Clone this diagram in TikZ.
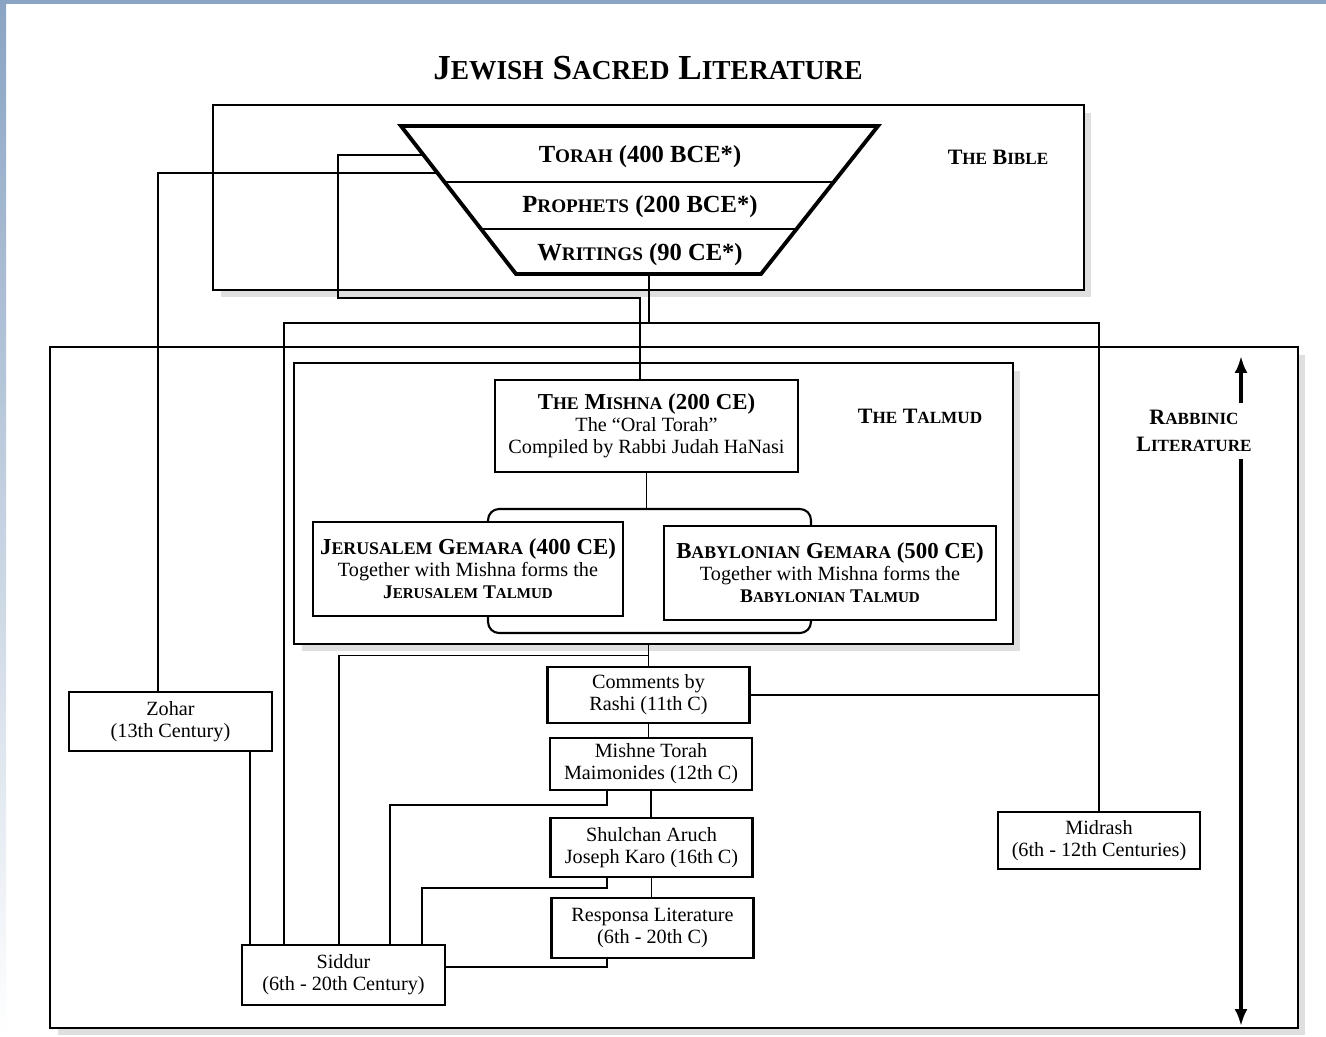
\documentclass[tikz,border=0pt]{standalone}
\usepackage{fontspec}
\setmainfont{Liberation Serif}
\usetikzlibrary{arrows.meta,calc,shadows}
\definecolor{scanblue}{HTML}{8AA4C3}
\newcommand{\fsc}[2]{#1\scalebox{0.78}{#2}}
\tikzset{
  panel/.style={draw, line width=1.2pt, fill=white, inner sep=0pt,
    drop shadow={shadow xshift=0.15cm, shadow yshift=-0.15cm, fill=gray!25, opacity=1}},
  itembox/.style={draw, line width=1.2pt, fill=white, align=center, inner sep=1pt,
    minimum width=4.04cm, minimum height=1.16cm, font=\fontsize{11.5}{12.5}\selectfont},
  gembox/.style={draw, line width=1.2pt, fill=white, align=center, inner sep=1pt,
    font=\fontsize{11.5}{12.5}\selectfont},
  tier/.style={font=\bfseries\fontsize{14}{16}\selectfont},
  sectlabel/.style={font=\bfseries\fontsize{12.5}{15}\selectfont, align=center},
  link/.style={line width=1pt},
  flow/.style={line width=1.9pt, -{Latex[length=0.34cm,width=0.26cm]}}
}
\begin{document}
\begin{tikzpicture}[x=0.02cm, y=-0.02cm]
\useasboundingbox (0,0) rectangle (1326,1037);
\fill[white] (0,0) rectangle (1326,1037);
\shade[top color=scanblue, bottom color=white] (0,0) rectangle (6,1037);
\fill[scanblue] (0,0) rectangle (1326,4);

\node[font=\bfseries\fontsize{20}{24}\selectfont] (title) at (648,68) {\fsc{J}{EWISH} \fsc{S}{ACRED} \fsc{L}{ITERATURE}};

\node[panel, minimum width=17.42cm, minimum height=3.7cm] (bible) at (648.5,197.5) {};
\node[panel, minimum width=24.96cm, minimum height=13.62cm] (rabframe) at (674,687.5) {};
\node[panel, minimum width=14.38cm, minimum height=5.62cm] (talmud) at (653.5,503.5) {};

\draw[line width=2.2pt] (401,126) coordinate (tl) -- (878,126) coordinate (tr) -- (761,274) coordinate (br) -- (516,274) coordinate (bl) -- cycle;
\draw[line width=1pt] ($(tl)!0.378!(bl)$) -- ($(tr)!0.378!(br)$);
\draw[line width=1pt] ($(tl)!0.696!(bl)$) -- ($(tr)!0.696!(br)$);
\node[tier] (torah) at (640,157) {\fsc{T}{ORAH} (400 BCE*)};
\node[tier] (prophets) at (640,207) {\fsc{P}{ROPHETS} (200 BCE*)};
\node[tier] (writings) at (640,255) {\fsc{W}{RITINGS} (90 CE*)};
\node[sectlabel] (biblelabel) at (998,157) {\fsc{T}{HE} \fsc{B}{IBLE}};

\node[sectlabel] (talmudlabel) at (920,416) {\fsc{T}{HE} \fsc{T}{ALMUD}};
\node[sectlabel, inner sep=4pt] (rabbinic) at (1194,431) {\fsc{R}{ABBINIC}\\\fsc{L}{ITERATURE}};

\node[gembox, minimum width=6.06cm, minimum height=1.84cm] (mishna) at (646.5,426)
  {{\bfseries\fontsize{13}{15}\selectfont \fsc{T}{HE} \fsc{M}{ISHNA} (200 CE)}\\The ``Oral Torah''\\Compiled by Rabbi Judah HaNasi};
\node[draw, line width=1.2pt, rounded corners=0.22cm, minimum width=6.46cm, minimum height=2.48cm] (gemara) at (649.5,571) {};
\node[gembox, minimum width=6.2cm, minimum height=1.88cm] (jerusalem) at (468,569)
  {{\bfseries\fontsize{13}{15}\selectfont \fsc{J}{ERUSALEM} \fsc{G}{EMARA} (400 CE)}\\Together with Mishna forms the\\{\bfseries\fontsize{11}{12}\selectfont \fsc{J}{ERUSALEM} \fsc{T}{ALMUD}}};
\node[gembox, minimum width=6.64cm, minimum height=1.88cm] (babylonian) at (830,573)
  {{\bfseries\fontsize{13}{15}\selectfont \fsc{B}{ABYLONIAN} \fsc{G}{EMARA} (500 CE)}\\Together with Mishna forms the\\{\bfseries\fontsize{11}{12}\selectfont \fsc{B}{ABYLONIAN} \fsc{T}{ALMUD}}};

\node[itembox, minimum height=1.12cm] (rashi) at (648.5,695) {Comments by\\Rashi (11th C)};
\node[itembox, minimum height=1.04cm] (mishne) at (651,764) {Mishne Torah\\Maimonides (12th C)};
\node[itembox, minimum height=1.18cm] (shulchan) at (651.5,847.5) {Shulchan Aruch\\Joseph Karo (16th C)};
\node[itembox, minimum height=1.2cm] (responsa) at (652.5,928) {Responsa Literature\\(6th - 20th C)};
\node[itembox, minimum width=4.06cm, minimum height=1.18cm] (zohar) at (170.5,721.5) {Zohar\\(13th Century)};
\node[itembox, minimum width=4.06cm, minimum height=1.2cm] (siddur) at (343.5,975) {Siddur\\(6th - 20th Century)};
\node[itembox, minimum height=1.14cm] (midrash) at (1099,840.5) {Midrash\\(6th - 12th Centuries)};

\coordinate (wout) at (649,274);
\coordinate (bibleR) at (1099,323);
\coordinate (torahM) at (338,298);
\coordinate (sz) at ([xshift=0.18cm]siddur.north west);
\coordinate (sb) at ([xshift=0.86cm]siddur.north west);
\coordinate (sg) at ([xshift=1.96cm]siddur.north west);
\coordinate (sm) at ([xshift=2.98cm]siddur.north west);
\coordinate (sa) at ([xshift=3.62cm]siddur.north west);
\coordinate (aup) at (1241,356);
\coordinate (adn) at (1241,1026);

\draw[link] ($(tl)!0.318!(bl)$) -| ([xshift=-0.25cm]zohar.north);
\draw[link] ($(tl)!0.196!(bl)$) -| (torahM) -| ([xshift=-0.13cm]mishna.north);
\draw[link] (wout) -- (wout |- bibleR);
\draw[link] (sb) |- (bibleR) -- (midrash.north);
\draw[link] (mishna.south) -- (mishna.south |- gemara.north);
\draw[link] (rashi.north |- talmud.south) -- (rashi.north);
\draw[link] (sg) |- ($(rashi.north)!0.5!(rashi.north |- talmud.south)$);
\draw[link] (rashi.south) -- (rashi.south |- mishne.north);
\draw[link] (mishne.south) -- (mishne.south |- shulchan.north);
\draw[link] (shulchan.south) -- (shulchan.south |- responsa.north);
\draw[link] (rashi.east) -- (rashi.east -| midrash.north);
\draw[link] (zohar.south -| sz) -- (sz);
\draw[link] ([xshift=-0.88cm]mishne.south) -- ++(0,14) -| (sm);
\draw[link] ([xshift=-0.89cm]shulchan.south) -- ++(0,10) -| (sa);
\draw[link] ([xshift=-0.91cm]responsa.south) |- ([yshift=0.16cm]siddur.east);

\draw[flow] (rabbinic.north -| aup) -- (aup);
\draw[flow] (rabbinic.south -| adn) -- (adn);
\end{tikzpicture}
\end{document}
